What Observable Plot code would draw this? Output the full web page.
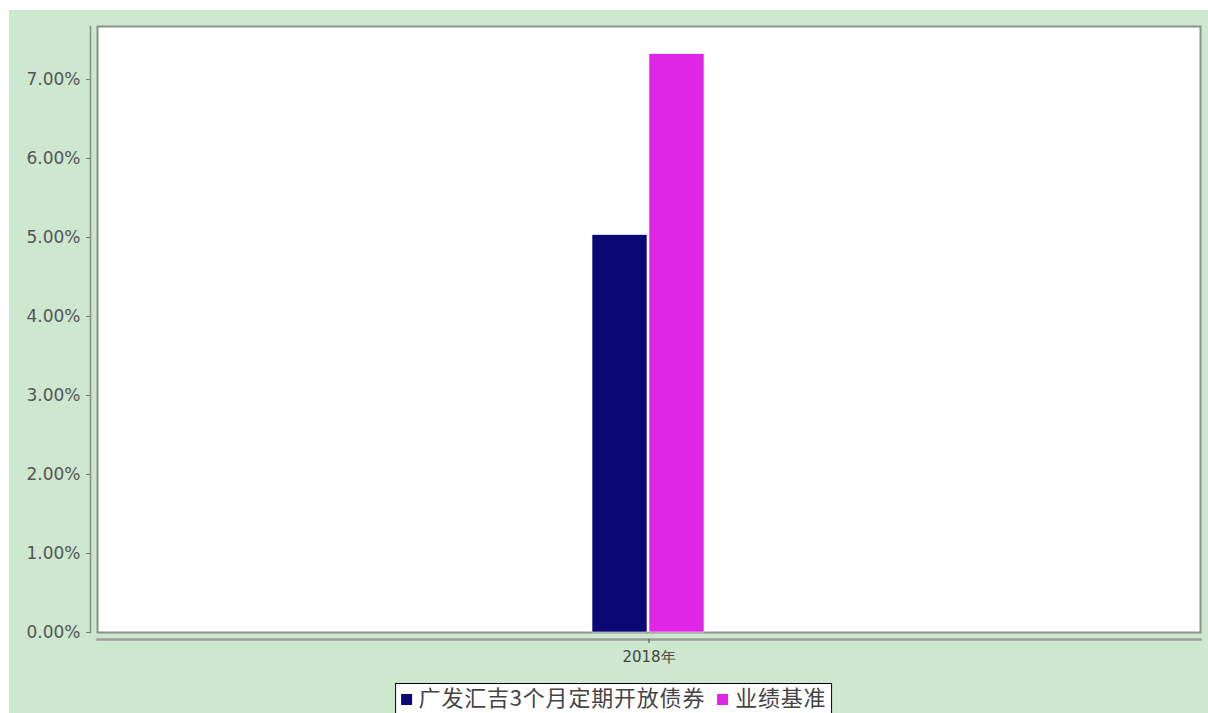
<!DOCTYPE html>
<html>
<head>
<meta charset="utf-8">
<script src="https://cdn.jsdelivr.net/npm/d3@7"></script>
<script src="https://cdn.jsdelivr.net/npm/@observablehq/plot@0.6"></script>
<style>
  html, body { margin: 0; padding: 0; background: #fff; }
  #wrap { position: absolute; left: 9px; top: 10px; width: 1199px; height: 703px; background: #cde8cf; overflow: hidden; }
  #legend { position: absolute; top: 673px; left: calc(50% + 5px); transform: translateX(-50%); white-space: nowrap;
    border: 1px solid #000; background: #fff; padding: 0 5px 12px 5px;
    font-family: "Noto Sans CJK SC", sans-serif; font-size: 22px; color: #444; line-height: 25px; letter-spacing: 0.8px; }
  #legend .sw { display: inline-block; width: 11px; height: 11px; margin-right: 7px; vertical-align: 1px; }
  #legend .it { margin-right: 12px; }
  #legend .it:last-child { margin-right: 0; }
</style>
</head>
<body>
<div id="wrap"><div id="chart"></div><div id="legend"></div></div>
<script>
const years = ["2018年"];
const series = ["广发汇吉3个月定期开放债券", "业绩基准"];
const colors = ["#0b0774", "#de26e6"];
const values2018 = [5.03, 7.32];
const yTicks = [0, 1, 2, 3, 4, 5, 6, 7];
const yMax = 7.67;

const data = series.map((s, i) => ({year: years[0], series: s, value: values2018[i]}));

const chart = Plot.plot({
  width: 1199,
  height: 703,
  marginLeft: 88,
  marginRight: 8,
  marginTop: 16,
  marginBottom: 81,
  style: {background: "transparent", overflow: "visible"},
  fx: {domain: years, axis: null, padding: 0},
  x: {domain: series, axis: null, paddingInner: 0.035, paddingOuter: 8.69},
  y: {domain: [0, yMax], axis: null},
  color: {domain: series, range: colors},
  marks: [
    Plot.frame({fill: "#fff", stroke: "#8a918b", strokeWidth: 2}),
    Plot.barY(data, {fx: "year", x: "series", y: "value", fill: "series", stroke: "#fff", strokeWidth: 0.6}),
    Plot.frame({anchor: "left", dx: -7, stroke: "#8a918b", strokeWidth: 1.6}),
    Plot.frame({anchor: "bottom", dy: 7, stroke: "#9a9f9b", strokeWidth: 2.5}),
    Plot.axisY(yTicks, {dx: -7, tickSize: 4, tickPadding: 6, tickFormat: d => d.toFixed(2) + "%",
      fontSize: 17, fontFamily: "DejaVu Sans", color: "#555", label: null, stroke: "#777"}),
    Plot.axisFx({anchor: "bottom", dy: 7, tickSize: 4, tickPadding: 8, fontSize: 15,
      fontFamily: "DejaVu Sans", color: "#444", label: null})
  ]
});
document.getElementById("chart").appendChild(chart);

const legend = document.getElementById("legend");
series.forEach((s, i) => {
  const it = document.createElement("span");
  it.className = "it";
  it.innerHTML = `<span class="sw" style="background:${colors[i]}"></span>${s}`;
  legend.appendChild(it);
});
</script>
</body>
</html>
